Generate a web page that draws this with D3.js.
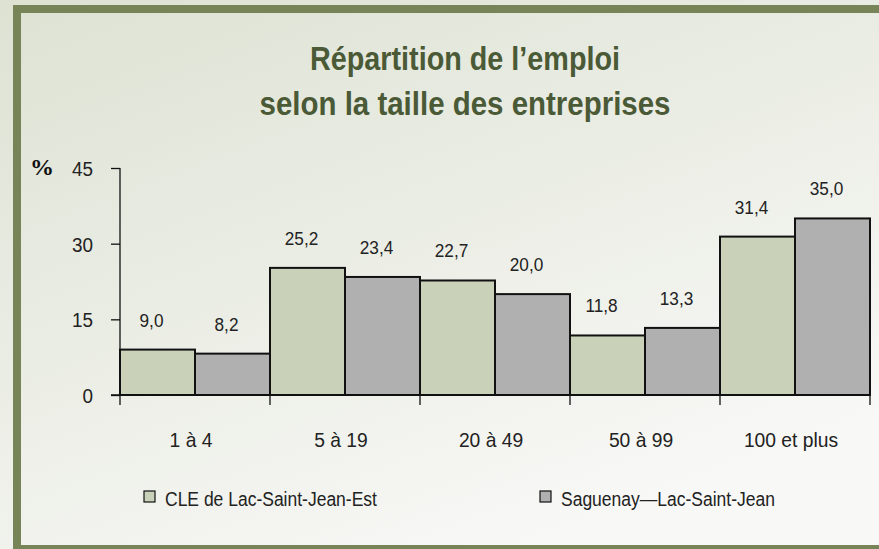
<!DOCTYPE html>
<html>
<head>
<meta charset="utf-8">
<script src="https://cdn.jsdelivr.net/npm/d3@7"></script>
<style>
  html, body { margin: 0; padding: 0; background: #e2e6da; }
  svg { display: block; }
  text { font-family: "Liberation Sans", Arial, sans-serif; }
</style>
</head>
<body>
<div id="chart"></div>
<script>
var width = 879,
    height = 549;

var categories = ["1 à 4", "5 à 19", "20 à 49", "50 à 99", "100 et plus"];
var series = ["CLE de Lac-Saint-Jean-Est", "Saguenay\u2014Lac-Saint-Jean"];
var cleValues = [9.0, 25.2, 22.7, 11.8, 31.4];
var sagValues = [8.2, 23.4, 20.0, 13.3, 35.0];
var yTicks = [0, 15, 30, 45];
var titleLines = ["Répartition de l\u2019emploi", "selon la taille des entreprises"];

var colors = ["#c9d1b9", "#b0b0b0"];

// narrow lettering: Arial squeezed horizontally
function narrow(sel, sx) {
  sel.attr("transform", function() {
    var t = d3.select(this);
    var tx = +t.attr("x") || 0, ty = +t.attr("y") || 0;
    t.attr("x", 0).attr("y", 0);
    return "translate(" + tx + "," + ty + ") scale(" + sx + ",1)";
  });
}

var svg = d3.select("#chart")
  .append("svg")
  .attr("width", width)
  .attr("height", height);

// background gradient
var defs = svg.append("defs");
var grad = defs.append("linearGradient")
  .attr("id", "bg")
  .attr("x1", "0%").attr("y1", "0%")
  .attr("x2", "60%").attr("y2", "100%");
grad.append("stop").attr("offset", "0%").attr("stop-color", "#dde2d3");
grad.append("stop").attr("offset", "100%").attr("stop-color", "#f8f8f6");

svg.append("rect")
  .attr("width", width).attr("height", height)
  .attr("fill", "url(#bg)");

// frame
svg.append("rect")
  .attr("x", 17).attr("y", 9)
  .attr("width", 900).attr("height", 540)
  .attr("fill", "none")
  .attr("stroke", "#778457")
  .attr("stroke-width", 8);

// title (squeezed to the width of the original lettering)
var titleWidths = [310, 411];
svg.append("g")
  .selectAll("text")
  .data(titleLines)
  .enter().append("text")
    .attr("x", 465)
    .attr("y", function(d, i) { return 70 + i * 45; })
    .attr("text-anchor", "middle")
    .attr("textLength", function(d, i) { return titleWidths[i]; })
    .attr("lengthAdjust", "spacingAndGlyphs")
    .attr("font-size", 34)
    .attr("font-weight", "bold")
    .attr("fill", "#4b5a36")
    .text(function(d) { return d; });

var x = d3.scaleBand()
  .domain(categories)
  .range([120, 870])
  .padding(0);

var xs = d3.scaleBand()
  .domain([0, 1])
  .range([0, x.bandwidth()])
  .padding(0);

var y = d3.scaleLinear()
  .domain([0, 45])
  .range([395, 168]);

// y axis
var yAxis = svg.append("g")
  .attr("transform", "translate(120,0)")
  .call(d3.axisLeft(y).tickValues(yTicks).tickSize(9).tickPadding(18));
yAxis.select(".domain").attr("d", "M0," + y(45) + "V" + y(0)).attr("stroke", "#111").attr("stroke-width", 1.3);
yAxis.selectAll(".tick line").attr("stroke", "#111").attr("stroke-width", 1.3);
yAxis.selectAll(".tick text")
  .attr("font-family", "Liberation Sans, Arial, sans-serif")
  .attr("font-size", 21)
  .attr("fill", "#222")
  .attr("dy", "0.36em")
  .call(narrow, 0.9);

svg.append("text")
  .attr("x", 30)
  .attr("y", 175)
  .style("font-family", "'Liberation Serif', 'Times New Roman', serif")
  .style("font-weight", "bold")
  .style("font-size", "24px")
  .attr("fill", "#111")
  .text("%");

// bars
var data = categories.map(function(c, i) { return { cat: c, vals: [cleValues[i], sagValues[i]] }; });

var groups = svg.append("g").selectAll("g")
  .data(data)
  .enter().append("g")
    .attr("transform", function(d) { return "translate(" + x(d.cat) + ",0)"; });

groups.selectAll("rect")
  .data(function(d) { return d.vals; })
  .enter().append("rect")
    .attr("x", function(d, i) { return xs(i); })
    .attr("y", function(d) { return y(d); })
    .attr("width", xs.bandwidth())
    .attr("height", function(d) { return y(0) - y(d); })
    .attr("fill", function(d, i) { return colors[i]; })
    .attr("stroke", "#111")
    .attr("stroke-width", 2);

groups.selectAll("text")
  .data(function(d) { return d.vals; })
  .enter().append("text")
    .attr("x", function(d, i) { return xs(i) + xs.bandwidth() / 2 - 6; })
    .attr("y", function(d) { return y(d) - 23; })
    .attr("text-anchor", "middle")
    .attr("font-size", 18.5)
    .attr("fill", "#222")
    .text(function(d) { return d3.format(".1f")(d).replace(".", ","); })
    .call(narrow, 0.93);

// x axis
var xAxis = svg.append("g")
  .attr("transform", "translate(0," + y(0) + ")");
xAxis.append("line")
  .attr("x1", 111).attr("x2", 870)
  .attr("stroke", "#111").attr("stroke-width", 1.5);
xAxis.selectAll(".xtick")
  .data(categories.concat([null]))
  .enter().append("line")
    .attr("class", "xtick")
    .attr("x1", function(d, i) { return i < categories.length ? x(d) : x.range()[1]; })
    .attr("x2", function(d, i) { return i < categories.length ? x(d) : x.range()[1]; })
    .attr("y1", 0).attr("y2", 10)
    .attr("stroke", "#111").attr("stroke-width", 1.3);
xAxis.selectAll(".xlabel")
  .data(categories)
  .enter().append("text")
    .attr("x", function(d) { return x(d) + x.bandwidth() / 2 - 4; })
    .attr("y", 52)
    .attr("text-anchor", "middle")
    .attr("font-size", 20.5)
    .attr("fill", "#222")
    .text(function(d) { return d; })
    .call(narrow, 0.94);

// legend
var legendX = [144, 540];
var legend = svg.append("g").selectAll("g")
  .data(series)
  .enter().append("g")
    .attr("transform", function(d, i) { return "translate(" + legendX[i] + ",491)"; });
legend.append("rect")
  .attr("width", 11).attr("height", 11)
  .attr("fill", function(d, i) { return colors[i]; })
  .attr("stroke", "#111").attr("stroke-width", 1.2);
legend.append("text")
  .attr("x", 21)
  .attr("y", 15)
  .attr("font-size", 20)
  .attr("fill", "#222")
  .text(function(d) { return d; })
  .call(narrow, 0.875);
</script>
</body>
</html>
